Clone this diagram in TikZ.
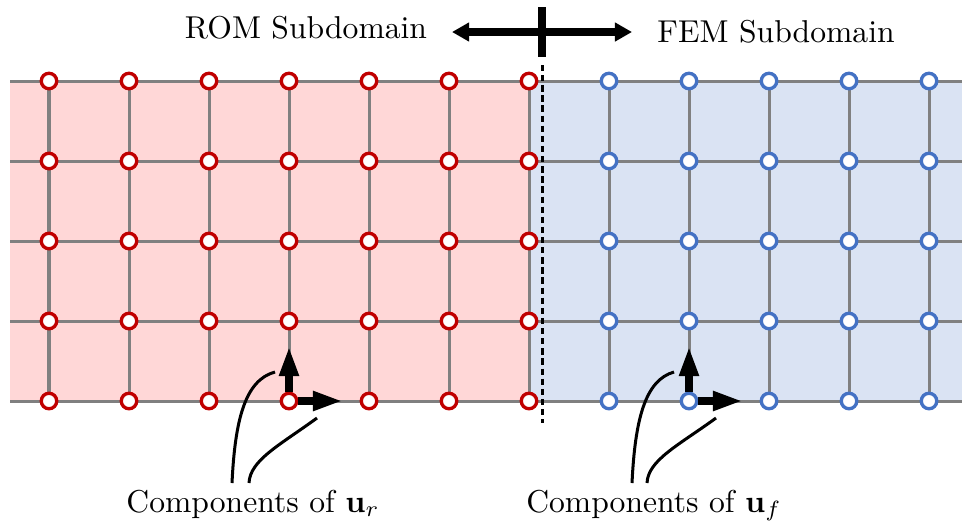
\documentclass[tikz,border=0pt]{standalone}
\usetikzlibrary{arrows.meta}
\definecolor{romred}{RGB}{192,0,0}
\definecolor{romfill}{RGB}{255,215,215}
\definecolor{femblue}{RGB}{68,114,196}
\definecolor{femfill}{RGB}{218,227,243}
\definecolor{gridgray}{RGB}{128,128,128}
\begin{document}
\begin{tikzpicture}[x=0.3163pt,y=-0.3163pt,
  gridline/.style={draw=gridgray,line width=0.95pt},
  romnode/.style={circle,draw=romred,fill=white,line width=1.05pt,inner sep=0pt,minimum size=4.9pt},
  femnode/.style={circle,draw=femblue,fill=white,line width=1.05pt,inner sep=0pt,minimum size=4.9pt},
  comparrow/.style={line width=2.37pt,-{Triangle[length=9.5pt,width=5.7pt]}},
  toparrow/.style={line width=2.5pt,{Triangle[length=5.4pt,width=5.7pt]}-{Triangle[length=5.4pt,width=5.7pt]}},
  pointer/.style={line width=0.95pt},
  ifaceline/.style={line width=0.95pt,dash pattern=on 2pt off 1.2pt},
  lbl/.style={inner sep=0pt,anchor=base}]
\useasboundingbox (0,0) rectangle (962,529);
% subdomain fills
\fill[romfill] (10,81) rectangle (529,401);
\fill[femfill] (529,81) rectangle (962,401);
% grid
\foreach \r in {0,...,4} \draw[gridline] (10,81+80*\r) -- (962,81+80*\r);
\foreach \c in {0,...,11} \draw[gridline] (49+80*\c,81) -- (49+80*\c,401);
% interface
\coordinate (it) at (542,65);
\coordinate (ib) at (542,423);
\draw[ifaceline] (it) -- (ib);
% nodes
\foreach \c in {0,...,6} \foreach \r in {0,...,4}
  \node[romnode] (n-\c-\r) at (49+80*\c,81+80*\r) {};
\foreach \c in {7,...,11} \foreach \r in {0,...,4}
  \node[femnode] (n-\c-\r) at (49+80*\c,81+80*\r) {};
% component arrows
\coordinate (ru) at (289,346);
\coordinate (rr) at (343,401);
\draw[comparrow] (n-3-4) -- (ru);
\draw[comparrow] (n-3-4) -- (rr);
\coordinate (fu) at (689,346);
\coordinate (fr) at (743,401);
\draw[comparrow] (n-8-4) -- (fu);
\draw[comparrow] (n-8-4) -- (fr);
% labels
\node[lbl] (lr) at (253,512) {Components of $\mathbf{u}_r$};
\node[lbl] (lf) at (654,512) {Components of $\mathbf{u}_f$};
\node[lbl] (rom) at (306,38) {ROM Subdomain};
\node[lbl] (fem) at (776,42) {FEM Subdomain};
% pointer curves
\coordinate (ra1) at (232,483);
\coordinate (ra2) at (275,372);
\coordinate (rb1) at (249,483);
\coordinate (rb2) at (317,418);
\draw[pointer] (ra1) .. controls (235,420) and (245,380) .. (ra2);
\draw[pointer] (rb1) .. controls (250,460) and (280,445) .. (rb2);
\coordinate (fa1) at (632,483);
\coordinate (fa2) at (674,372);
\coordinate (fb1) at (647,483);
\coordinate (fb2) at (716,418);
\draw[pointer] (fa1) .. controls (635,420) and (645,380) .. (fa2);
\draw[pointer] (fb1) .. controls (648,460) and (679,445) .. (fb2);
% top arrow and divider
\coordinate (al) at (452,32);
\coordinate (ar) at (632,32);
\draw[toparrow] (al) -- (ar);
\coordinate (bt) at (542,7);
\coordinate (bb) at (542,57);
\draw[line width=2.5pt] (bt) -- (bb);
\end{tikzpicture}
\end{document}
